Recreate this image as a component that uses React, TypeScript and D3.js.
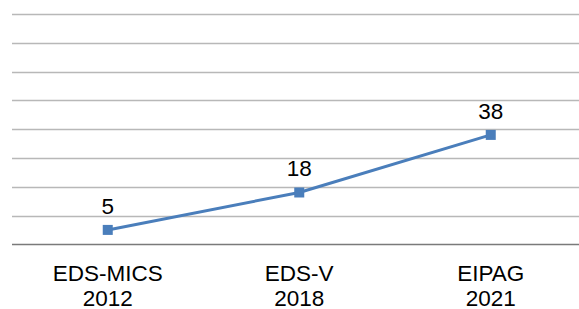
import React, { useEffect, useRef } from "react";
import * as d3 from "d3";

const WIDTH = 579;
const HEIGHT = 309;

const categories = ["EDS-MICS\n2012", "EDS-V\n2018", "EIPAG\n2021"];
const values = [5, 18, 38];
const yTicks = [0, 10, 20, 30, 40, 50, 60, 70, 80];

const LINE_COLOR = "#4a7ebb";
const FONT = "'Liberation Sans', Arial, sans-serif";

export default function App() {
  const svgRef = useRef<SVGSVGElement>(null);

  useEffect(() => {
    const svg = d3.select(svgRef.current);
    svg.selectAll("*").remove();

    const X = d3.scaleBand().domain(categories).range([12, 586.5]);
    const Y = d3.scaleLinear().domain([0, 80]).range([244.3, 14]);
    const cx = (c: string) => X(c) + X.bandwidth() / 2;

    // gridlines
    svg
      .append("g")
      .selectAll("line")
      .data(yTicks.filter((t) => t > 0))
      .enter()
      .append("line")
      .attr("x1", 12)
      .attr("x2", WIDTH)
      .attr("y1", (d) => Math.round(Y(d)) + 0.5)
      .attr("y2", (d) => Math.round(Y(d)) + 0.5)
      .attr("stroke", "#b8b8b8")
      .attr("stroke-width", 1.4);

    // x axis line
    svg
      .append("line")
      .attr("x1", 12)
      .attr("x2", WIDTH)
      .attr("y1", Math.round(Y(0)) + 0.5)
      .attr("y2", Math.round(Y(0)) + 0.5)
      .attr("stroke", "#7a7a7a")
      .attr("stroke-width", 1.5);

    // category labels
    const labels = svg
      .append("g")
      .selectAll("text")
      .data(categories)
      .enter()
      .append("text")
      .attr("x", (d) => cx(d))
      .attr("y", 281)
      .attr("text-anchor", "middle")
      .attr("font-family", FONT)
      .attr("font-size", 22.5)
      .attr("fill", "#000");
    labels
      .selectAll("tspan")
      .data((d) => d.split("\n").map((t) => ({ t, c: d })))
      .enter()
      .append("tspan")
      .attr("x", (d) => cx(d.c))
      .attr("dy", (_, i) => (i === 0 ? 0 : 24.5))
      .text((d) => d.t);

    const pts = categories.map((c, i) => ({ c, v: values[i] }));

    // line
    svg
      .append("path")
      .datum(pts)
      .attr(
        "d",
        d3
          .line<{ c: string; v: number }>()
          .x((d) => cx(d.c))
          .y((d) => Y(d.v))
      )
      .attr("fill", "none")
      .attr("stroke", LINE_COLOR)
      .attr("stroke-width", 3)
      .attr("stroke-linejoin", "round");

    // markers
    const m = 10;
    svg
      .append("g")
      .selectAll("rect")
      .data(pts)
      .enter()
      .append("rect")
      .attr("x", (d) => cx(d.c) - m / 2)
      .attr("y", (d) => Y(d.v) - m / 2)
      .attr("width", m)
      .attr("height", m)
      .attr("fill", LINE_COLOR);

    // data labels
    svg
      .append("g")
      .selectAll("text")
      .data(pts)
      .enter()
      .append("text")
      .attr("x", (d) => cx(d.c))
      .attr("y", (d) => Y(d.v) - 16)
      .attr("text-anchor", "middle")
      .attr("font-family", FONT)
      .attr("font-size", 22.5)
      .attr("fill", "#000")
      .text((d) => d.v);
  }, []);

  return (
    <svg
      ref={svgRef}
      width={WIDTH}
      height={HEIGHT}
      style={{ position: "absolute", left: 0, top: 0, background: "#fff" }}
    />
  );
}
